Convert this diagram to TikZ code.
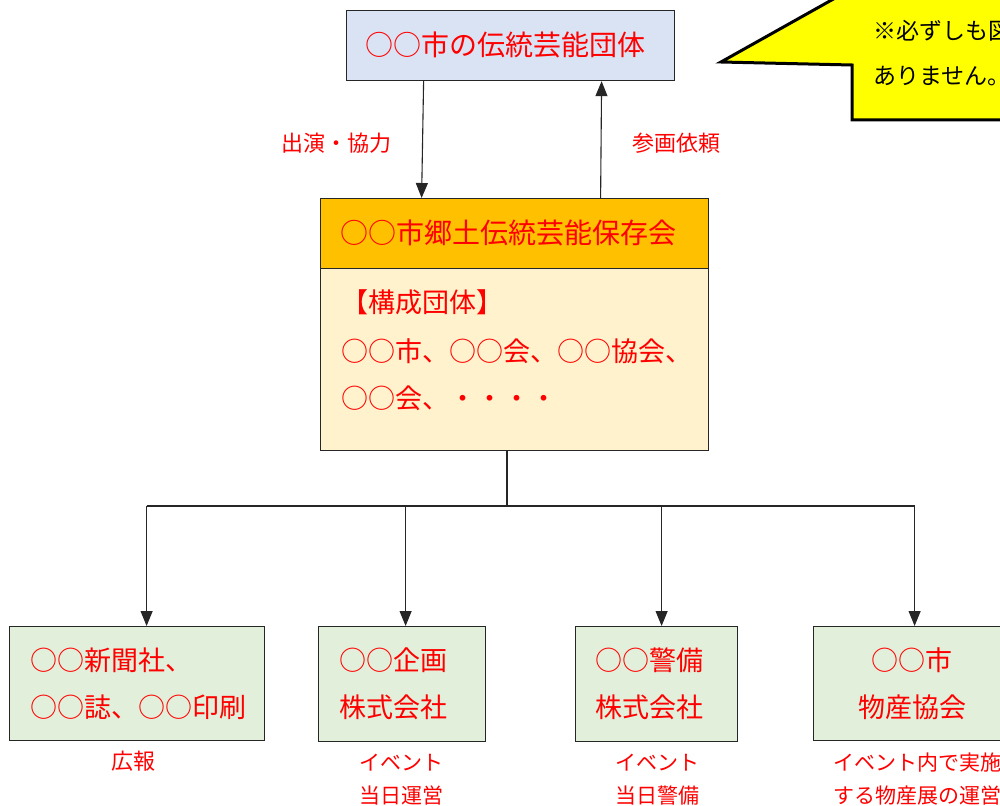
\documentclass[tikz,border=0pt]{standalone}
\usepackage{fontspec}
\setmainfont{Noto Sans CJK JP}
\usetikzlibrary{arrows.meta}
\definecolor{topblue}{HTML}{DAE3F3}
\definecolor{hdrorange}{HTML}{FFC000}
\definecolor{bodycream}{HTML}{FFF2CC}
\definecolor{boxgreen}{HTML}{E2EFDA}
\definecolor{calloutyellow}{HTML}{FFFF00}
\definecolor{txtred}{HTML}{FF0000}
\begin{document}
\begin{tikzpicture}[x=1pt,y=-1pt,
  box/.style={draw=black!85, line width=1.2pt, inner sep=0pt, anchor=north west},
  txt/.style={inner sep=0pt, text height=13pt, text depth=1pt, text=txtred},
  big/.style={font=\fontsize{27}{27}\selectfont, yshift=-4.5pt},
  bigger/.style={font=\fontsize{28}{28}\selectfont, yshift=-4.7pt},
  lab/.style={font=\fontsize{22}{22}\selectfont, yshift=-3pt},
  small/.style={font=\fontsize{21}{21}\selectfont, yshift=-2.5pt},
  note/.style={inner sep=0pt, text height=13pt, text depth=1pt, text=black, font=\fontsize{23}{23}\selectfont, yshift=-3.5pt},
  conn/.style={line width=1.1pt, draw=black!85},
  arr/.style={conn, -{Triangle[width=12pt,length=15pt]}}]
\useasboundingbox (0,0) rectangle (1000,805);
\clip (0,0) rectangle (1000,805);

% callout
\draw[line width=3pt, fill=calloutyellow, line join=miter]
  (721,62) -- (852,65) -- (852,120) -- (1030,120) -- (1030,-40) -- (903,-40) -- cycle;
\node[note, anchor=west] (n1) at (873,30) {※必ずしも図};
\node[note, anchor=west] (n2) at (873,75) {ありません。};

% top box
\node[box, fill=topblue, minimum width=328pt, minimum height=70pt] (top) at (346,10) {};
\node[txt, bigger, anchor=west] (toptxt) at (365,45) {○○市の伝統芸能団体};

% middle box
\node[box, fill=hdrorange, minimum width=388pt, minimum height=70pt] (hdr) at (320,198) {};
\node[box, fill=bodycream, minimum width=388pt, minimum height=182pt] (body) at (320,268) {};
\node[txt, bigger, anchor=west] (hdrtxt) at (340,233) {○○市郷土伝統芸能保存会};
\node[txt, big, anchor=west] (bd1) at (341,302) {【構成団体】};
\node[txt, big, anchor=west] (bd2) at (341,351) {○○市、○○会、○○協会、};
\node[txt, big, anchor=west] (bd3) at (341,398) {○○会、・・・・};

% arrows between top and middle
\draw[arr] ([xshift=-87pt]top.south) -- ([xshift=-93pt]hdr.north);
\draw[arr] ([xshift=86pt]hdr.north) -- ([xshift=91pt]top.south);
\node[txt, lab] (l1) at (336,143) {出演・協力};
\node[txt, lab] (l2) at (676,143) {参画依頼};

% bottom boxes
\node[box, fill=boxgreen, minimum width=255pt, minimum height=114pt] (b1) at (9,626) {};
\node[box, fill=boxgreen, minimum width=167pt, minimum height=115pt] (b2) at (318,626) {};
\node[box, fill=boxgreen, minimum width=162pt, minimum height=115pt] (b3) at (575,626) {};
\node[box, fill=boxgreen, minimum width=200pt, minimum height=114pt] (b4) at (813,626) {};

\node[txt, big, anchor=west] (b1a) at (30,660) {○○新聞社、};
\node[txt, big, anchor=west] (b1b) at (30,707) {○○誌、○○印刷};
\node[txt, big, anchor=west] (b2a) at (339,660) {○○企画};
\node[txt, big, anchor=west] (b2b) at (339,707) {株式会社};
\node[txt, big, anchor=west] (b3a) at (595,660) {○○警備};
\node[txt, big, anchor=west] (b3b) at (595,707) {株式会社};
\node[txt, big] (b4a) at (912,660) {○○市};
\node[txt, big] (b4b) at (912,707) {物産協会};

% labels under boxes
\node[txt, lab] (c1) at (133,760) {広報};
\node[txt, small] (c2a) at (401,762) {イベント};
\node[txt, small] (c2b) at (401,795) {当日運営};
\node[txt, small] (c3a) at (657,762) {イベント};
\node[txt, small] (c3b) at (657,795) {当日警備};
\node[txt, small, anchor=west] (c4a) at (833,762) {イベント内で実施};
\node[txt, small, anchor=west] (c4b) at (833,795) {する物産展の運営};

% tree connector
\coordinate (j) at (507,506);
\coordinate (a1) at ([xshift=9.5pt]b1.north);
\coordinate (a2) at ([xshift=3.5pt]b2.north);
\coordinate (a3) at ([xshift=5pt]b3.north);
\coordinate (a4) at ([xshift=1pt]b4.north);
\draw[conn] (body.south -| j) -- (j);
\draw[conn] (a1 |- j) -- (a4 |- j);
\draw[arr] (a1 |- j) -- (a1);
\draw[arr] (a2 |- j) -- (a2);
\draw[arr] (a3 |- j) -- (a3);
\draw[arr] (a4 |- j) -- (a4);
\end{tikzpicture}
\end{document}
